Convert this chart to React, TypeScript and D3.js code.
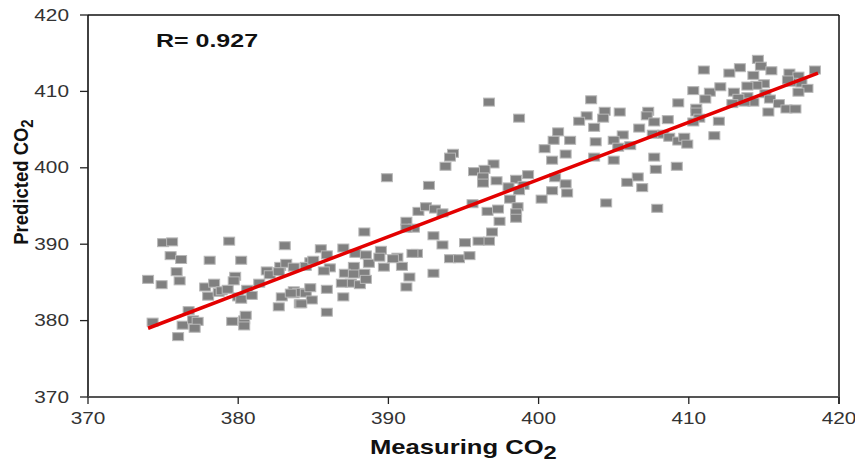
import React from 'react';
import * as d3 from 'd3';

const measured = [
  374.0, 375.0, 375.6, 374.9, 375.5, 376.2, 375.9, 376.1, 374.3, 376.7, 376.3, 377.0, 377.3, 377.1, 376.0,
  378.1, 377.8, 378.0, 378.4, 378.7, 378.9, 379.3, 379.4, 379.8, 379.7, 380.2, 379.6, 380.0, 380.2, 380.4,
  380.4, 380.5, 380.6, 380.9, 381.4, 381.9, 382.1, 382.8, 382.7, 383.1, 383.2, 383.7, 382.9, 382.7, 383.7,
  383.7, 384.1,
  394.3, 394.1, 393.8, 389.9, 392.7, 392.0, 392.5, 393.1, 393.6, 391.2, 391.7, 391.2, 393.0, 393.6, 394.1,
  394.7, 393.0, 388.4, 385.5, 385.9, 387.0, 387.8, 388.5, 388.7, 389.5, 389.4, 389.7, 390.6, 390.9, 390.3,
  391.9, 391.6, 391.4, 391.2, 387.7, 387.1, 387.7, 388.4, 387.5, 388.1, 388.5, 386.9, 386.1, 385.7, 384.8,
  384.5, 385.0, 384.0, 384.5, 384.8, 384.9, 384.2, 385.9, 387.0, 385.9, 383.5,
  396.7, 398.7, 397.0, 396.4, 395.7, 396.3, 396.3, 397.2, 395.6, 399.3, 398.5, 399.0, 398.7, 398.0, 398.1,
  398.6, 398.5, 398.5, 396.6, 397.3, 397.4, 396.9, 396.7, 396.0, 395.1, 395.4, 401.3, 401.0, 402.1, 400.4,
  401.8, 400.9, 401.1, 401.8, 401.9, 400.9, 400.2, 403.7, 403.5, 403.2, 402.7, 403.7, 403.8,
  411.0, 410.3, 411.4, 411.1, 412.1, 409.3, 410.5, 410.5, 410.7, 410.3, 412.0, 411.7, 407.3, 407.2, 407.7,
  408.6, 406.7, 407.6, 408.3, 408.7, 409.3, 409.7, 409.9, 405.6, 405.0, 405.3, 406.1, 404.4, 404.3, 405.4,
  407.7, 407.8, 409.2, 406.6, 405.9, 406.9, 404.5, 407.9, 405.0,
  414.6, 414.8, 415.5, 414.3, 413.4, 412.7, 416.7, 417.3, 416.9, 417.5, 417.9, 417.3, 418.4, 416.6, 415.0,
  414.5, 413.9, 413.0, 413.9, 414.3, 413.7, 413.3, 412.9, 415.1, 415.4, 416.0, 416.5, 417.1, 415.3,
];

const predicted = [
  385.4, 390.2, 390.3, 384.7, 388.5, 388.0, 386.4, 385.2, 379.8, 381.3, 379.4, 380.1, 379.9, 379.0, 377.9,
  387.9, 384.4, 383.2, 384.9, 383.7, 383.9, 384.1, 390.4, 385.8, 385.2, 387.9, 379.9, 383.1, 382.8, 380.1,
  379.3, 380.7, 384.1, 383.3, 384.9, 386.5, 386.0, 387.1, 386.4, 389.8, 387.5, 387.0, 383.1, 381.8, 383.9,
  383.5, 382.2,
  401.9, 401.4, 400.2, 398.7, 397.7, 394.3, 394.9, 394.6, 394.1, 393.0, 392.1, 392.1, 391.1, 389.9, 388.1,
  388.1, 386.2, 391.6, 389.4, 388.6, 389.5, 388.8, 388.6, 387.5, 389.2, 388.3, 387.0, 388.3, 387.1, 388.1,
  388.8, 388.8, 385.7, 384.4, 387.1, 386.2, 386.1, 386.2, 384.9, 384.7, 385.4, 384.9, 386.9, 386.5, 387.7,
  387.1, 387.9, 383.7, 383.6, 384.3, 382.7, 382.2, 384.1, 383.1, 381.1, 383.6,
  408.6, 406.5, 400.5, 399.8, 399.5, 398.8, 398.0, 398.3, 395.3, 399.1, 398.5, 397.7, 397.0, 397.5, 395.9,
  394.9, 394.1, 393.4, 394.3, 394.6, 393.0, 391.6, 390.4, 390.4, 390.2, 388.5, 404.7, 403.6, 403.6, 402.5,
  401.8, 401.0, 398.7, 397.9, 396.7, 397.0, 395.9, 401.4, 408.9, 406.8, 406.1, 405.3, 403.4,
  412.8, 410.1, 409.9, 409.0, 410.6, 408.5, 407.8, 407.3, 406.5, 406.0, 406.1, 404.2, 407.4, 406.8, 406.0,
  406.3, 405.2, 404.4, 404.4, 404.0, 403.5, 404.0, 403.1, 404.3, 403.6, 402.7, 402.9, 407.4, 406.5, 407.3,
  401.4, 399.8, 400.2, 398.8, 398.1, 397.4, 395.4, 394.7, 401.0,
  414.2, 413.3, 412.7, 412.1, 413.1, 412.4, 412.4, 412.0, 411.2, 411.1, 410.4, 409.9, 412.8, 411.5, 411.0,
  410.8, 410.7, 409.9, 409.3, 408.6, 408.6, 409.1, 408.4, 409.7, 409.0, 408.4, 407.7, 407.7, 407.3,
];

// Fitted regression line end points
const fitX = [374.0, 418.6];
const fitY = [379.0, 412.4];

const xTicks = [370, 380, 390, 400, 410, 420];
const yTicks = [370, 380, 390, 400, 410, 420];
const rLabel = 'R= 0.927';
const xTitle = 'Measuring CO';
const yTitle = 'Predicted CO';
const subscript = '2';

const FONT = '"Liberation Sans", Arial, Helvetica, sans-serif';

export default function App() {
  const x = d3.scaleLinear().domain([370, 420]).range([88, 839]);
  const y = d3.scaleLinear().domain([370, 420]).range([397, 15]);
  const fitLine = d3
    .line<number>()
    .x((d) => x(d))
    .y((_, i) => y(fitY[i]));
  const pts = measured.map((m, i) => ({ m, p: predicted[i] }));
  const [x0, x1] = x.range();
  const [y0, y1] = y.range();

  return (
    <svg
      width={855}
      height={464}
      style={{ position: 'absolute', left: 0, top: 0, background: '#fff' }}
      fontFamily={FONT}
    >
      <rect width={855} height={464} fill="#fff" />
      {/* frame */}
      <line x1={x0} x2={x1} y1={y1} y2={y1} stroke="#111" strokeWidth={1.5} />
      <line x1={x1} x2={x1} y1={y1} y2={y0 + 7} stroke="#111" strokeWidth={1.5} />
      <line x1={x0} x2={x0} y1={y1} y2={y0} stroke="#111" strokeWidth={1.6} />
      <line x1={x0} x2={x1} y1={y0} y2={y0} stroke="#555" strokeWidth={2} />

      {/* y ticks */}
      {yTicks.map((t) => (
        <g key={'y' + t}>
          <line x1={x0 - 8} x2={x0} y1={y(t)} y2={y(t)} stroke="#222" strokeWidth={1.3} />
          <text
            transform={`translate(${x0 - 19},${y(t) + 5.5}) scale(1.3,1)`}
            textAnchor="end"
            fontSize={16}
            fill="#333"
          >
            {t}
          </text>
        </g>
      ))}
      {/* x ticks */}
      {xTicks.map((t) => (
        <g key={'x' + t}>
          <line x1={x(t)} x2={x(t)} y1={y0} y2={y0 + 7} stroke="#222" strokeWidth={1.3} />
          <text
            transform={`translate(${x(t)},${424}) scale(1.3,1)`}
            textAnchor="middle"
            fontSize={16}
            fill="#333"
          >
            {t}
          </text>
        </g>
      ))}

      {/* points */}
      {pts.map((d, i) => (
        <rect
          key={i}
          x={x(d.m) - 5.5}
          y={y(d.p) - 4}
          width={11}
          height={8}
          fill="#808080"
          stroke="#b8b8b8"
          strokeWidth={1}
        />
      ))}

      {/* regression line */}
      <path d={fitLine(fitX) || ''} fill="none" stroke="#e30000" strokeWidth={3.5} />

      {/* R label */}
      <text
        transform={`translate(156,47) scale(1.35,1)`}
        fontSize={18.5}
        fontWeight="bold"
        fill="#111"
      >
        {rLabel}
      </text>

      {/* x title */}
      <text
        transform={`translate(370,454) scale(1.25,1)`}
        fontSize={20.5}
        fontWeight="bold"
        fill="#111"
      >
        {xTitle}
        <tspan dy={5} fontSize={19}>
          {subscript}
        </tspan>
      </text>

      {/* y title */}
      <text
        transform={`translate(28,182) scale(1.13,1) rotate(-90)`}
        textAnchor="middle"
        fontSize={18.5}
        fontWeight="bold"
        fill="#111"
      >
        {yTitle}
        <tspan dy={4} fontSize={15}>
          {subscript}
        </tspan>
      </text>
    </svg>
  );
}
